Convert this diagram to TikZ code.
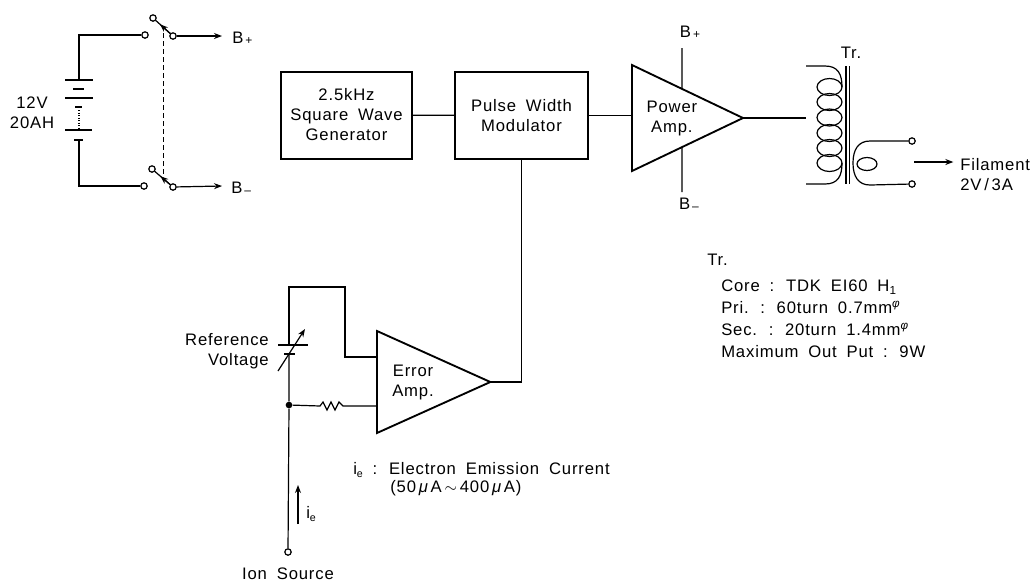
\documentclass[tikz,border=0pt]{standalone}
\usepackage{fontspec}
\setmainfont[LetterSpace=5,WordSpace=1.8]{Liberation Sans}
\usetikzlibrary{shapes.geometric,arrows.meta,calc}
\tikzset{
    basefont/.style={font=\fontsize{12.5}{15}\selectfont},
    block/.style={rectangle, draw, line width=1.5pt, align=center, inner sep=0pt, basefont},
    amp/.style={isosceles triangle, isosceles triangle stretches, shape border rotate=0, draw, line width=1.4pt, align=center, inner sep=0pt, outer sep=0pt, anchor=lower side, basefont},
    term/.style={circle, draw, fill=white, line width=0.9pt, inner sep=0pt, minimum size=4.8pt},
    label/.style={align=center, inner sep=0pt, basefont},
    wire/.style={line width=0.9pt},
    flow/.style={wire, -{Stealth[length=6pt,width=4.5pt]}},
    plate/.style={line width=0.8pt},
    thickplate/.style={line width=2.2pt},
}

\begin{document}
\begin{tikzpicture}[x=0.75pt, y=-0.75pt]
    \useasboundingbox (0,0) rectangle (1036,583);

    % battery and switches
    \node[term] (a1) at (145,35) {};
    \node[term] (a2) at (144,186) {};
    \node[term] (s1) at (153,18) {};
    \node[term] (s2) at (173,36) {};
    \node[term] (s3) at (152,169) {};
    \node[term] (s4) at (173,187) {};
    \node[label, anchor=west] (bp) at (232,38) {B\raisebox{-1pt}{\small\,+}};
    \node[label, anchor=west] (bm) at (231,188) {B\raisebox{-1pt}{\small\,--}};
    \coordinate (battop) at (79,80);
    \coordinate (batbot) at (79,140);
    \coordinate (bpend) at (222,36);
    \coordinate (bmend) at (222,186);
    \draw[wire] (a1) -| (battop);
    \draw[wire] (a2) -| (batbot);
    \draw[plate] (65,80) -- (93,80);
    \draw[thickplate] (73,89) -- (84,89);
    \draw[plate] (65,98) -- (93,98);
    \draw[thickplate] (75,107) -- (82,107);
    \draw[wire, densely dotted] (79,110) -- (79,129);
    \draw[plate] (65,130) -- (92,130);
    \draw[thickplate] (74,140) -- (83,140);
    \draw[wire] (s2) -- (s1);
    \draw[wire] (s4) -- (s3);
    \draw[flow] (s2) -- ($(s2)!.65!(s1)$);
    \draw[flow] (s4) -- ($(s4)!.6!(s3)$);
    \draw[flow] (s2) -- (bpend);
    \draw[flow] (s4) -- (bmend);
    \draw[line width=0.7pt, dash pattern=on 3.5pt off 2.5pt] (163.5,33) -- (163.5,175);
    \node[label] (batt) at (32,113) {12V\\20AH};

    % blocks
    \node[block, minimum width=98.25pt, minimum height=65.25pt] (gen) at (346.5,115) {2.5kHz\\Square Wave\\Generator};
    \node[block, minimum width=99.75pt, minimum height=65.25pt] (pwm) at (521.5,115.5) {Pulse Width\\Modulator};
    \node[amp, minimum width=79.5pt, minimum height=83.25pt] (pamp) at (632,118) {\hspace*{8pt}Power\\\hspace*{8pt}Amp.};
    \draw[wire] (gen) -- (pwm);
    \draw[wire] (pwm.east) -- (pamp.lower side |- pwm.east);
    \node[label] (bpamp) at (690,32) {B\raisebox{-1pt}{\small\,+}};
    \node[label] (bmamp) at (689,204) {B\raisebox{-1pt}{\small\,--}};
    \coordinate (bpin) at (682,48);
    \coordinate (bmin) at (682,192);
    \draw[wire] (bpin) -- ($(pamp.apex)!.55!(pamp.left corner)$);
    \draw[wire] (bmin) -- ($(pamp.apex)!.55!(pamp.right corner)$);

    % transformer
    \coordinate (pri) at (806,118);
    \draw[wire] (pamp.apex) -- (pri);
    \draw[wire] (806,66) -- (825,66) .. controls (838,66) and (842,74) .. (842,87);
    \draw[wire] (806,184) -- (825,184) .. controls (838,184) and (842,176) .. (842,163);
    \foreach \yy in {87,102,117.5,133,148,163}
        \draw[wire] (829.5,\yy) ellipse [x radius=12.5, y radius=8.5];
    \draw[wire] (846,66) -- (846,184);
    \draw[wire] (849.5,66) -- (849.5,184);
    \node[term] (t1) at (912,141) {};
    \node[term] (t2) at (912,184) {};
    \draw[wire] (t1) -- (870,141) .. controls (858,141) and (853,150) .. (853,163) .. controls (853,176) and (858,185) .. (870,185) -- (t2);
    \draw[wire] (867,164) ellipse [x radius=10, y radius=6.5];
    \node[label] (trtop) at (851,53) {Tr.};
    \node[label, anchor=west, align=left] (fil) at (960,175) {Filament\\2V\,/\,3A};
    \draw[flow, shorten >=5pt] (914,162) -- (fil.west |- 914,162);

    % error amp
    \node[amp, minimum width=76.5pt, minimum height=85pt] (eamp) at (377,382) {\hspace*{6pt}Error\\\hspace*{6pt}Amp.};
    \draw[wire] (eamp.apex) -| (pwm.south);
    \node[term] (ion) at (288,552) {};
    \node[circle, fill, inner sep=0pt, minimum size=5pt] (jn) at (289,405) {};
    \coordinate (reftop) at (289,287);
    \coordinate (refplus) at (289,345);
    \coordinate (refminus) at (289,354);
    \draw[wire] (ion) -- (jn) -- (refminus);
    \draw[wire] (refplus) -- (reftop) -- (345,287) -- (345,357) -- (eamp.lower side |- 345,357);
    \draw[wire] (jn) -- (320,406) -- (323,402) -- (327,410) -- (331,402) -- (335,410) -- (339,402) -- (343,406) -- (eamp.lower side |- 343,406);
    \draw[plate] (278,345) -- (308,345);
    \draw[thickplate] (284,354) -- (295,354);
    \draw[flow] (278,371) -- (305,329);
    \node[label, anchor=east, align=right] (refv) at (269,351) {Reference\\Voltage};
    \draw[flow] (298,524) -- (298,485);
    \node[label, anchor=west] (ie) at (306,514) {i\raisebox{-2pt}{\footnotesize e}};
    \node[label] (src) at (288,574) {Ion Source};
    \node[label, anchor=west, align=left] (ienote) at (353,470) {i\raisebox{-2pt}{\footnotesize e} : Electron Emission Current};
    \node[label, anchor=west] (ierange) at (390,488) {(50\,{\itshape μ}\,A\,$\sim$\,400\,{\itshape μ}\,A)};

    % transformer data
    \node[label, anchor=west] (trh) at (707,260) {Tr.};
    \node[label, anchor=north west, align=left, font=\fontsize{12.5}{16.3}\selectfont] (trdata) at (721,280) {Core : TDK EI60 H\textsubscript{1}\\Pri. : 60turn 0.7mm\textsuperscript{\itshape φ}\\Sec. : 20turn 1.4mm\textsuperscript{\itshape φ}\\Maximum Out Put : 9W};
\end{tikzpicture}
\end{document}
